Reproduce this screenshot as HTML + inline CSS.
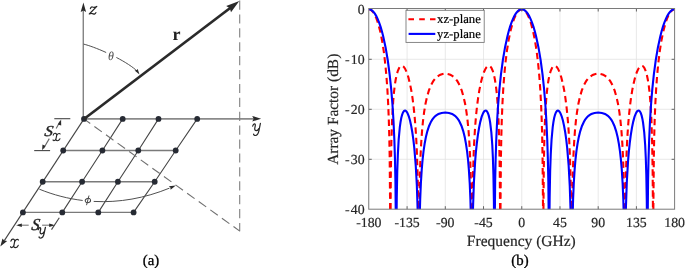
<!DOCTYPE html>
<html><head><meta charset="utf-8"><style>
html,body{margin:0;padding:0;background:#fff;}
svg{display:block;will-change:transform;}
text{font-family:"Liberation Serif",serif;text-rendering:geometricPrecision;}
</style></head><body>
<svg width="685" height="268" viewBox="0 0 685 268">
<defs>
<clipPath id="ax"><rect x="368.75" y="7.0" width="305.85" height="202.2"/></clipPath>
</defs>
<rect width="685" height="268" fill="#fff"/>
<!-- ===== LEFT DIAGRAM ===== -->
<g stroke="#454545" stroke-width="1.1" fill="none">
<!-- z axis -->
<line x1="83.25" y1="119" x2="83.25" y2="10" stroke="#747474" stroke-width="1.25"/>
<!-- y axis (row 0) -->
<line x1="84" y1="118.9" x2="254" y2="118.9" stroke="#8a8a8a" stroke-width="1.6"/>
<!-- x axis -->
<line x1="84" y1="118.9" x2="4.3" y2="240.6"/>
<line x1="63.2" y1="150.5" x2="175.7" y2="150.5" stroke="#7a7a7a" stroke-width="1.35"/>
<line x1="42.7" y1="181.75" x2="154.7" y2="181.75" stroke="#7a7a7a" stroke-width="1.35"/>
<line x1="22.9" y1="212.4" x2="133.6" y2="212.4" stroke="#7a7a7a" stroke-width="1.35"/>
<polyline fill="none" points="122.7,118.9 102.4,150.5 82.1,181.75 62.3,212.4"/>
<polyline fill="none" points="158.5,118.9 138.3,150.5 117.9,181.75 98.3,212.4"/>
<polyline fill="none" points="197.2,118.9 175.7,150.5 154.7,181.75 133.6,212.4"/>
<!-- dashed vertical -->
<line x1="239.7" y1="0.5" x2="239.7" y2="231.2" stroke="#808080" stroke-width="1.1" stroke-dasharray="9.2 4.7"/>
<!-- dashed diagonal -->
<line x1="82.8" y1="118.14" x2="239.8" y2="231.1" stroke="#707070" stroke-width="1.1" stroke-dasharray="9.2 5.08"/>
<!-- theta arc -->
<path d="M83.60,44.10 C89.10,45.46 97.48,48.56 106.17,52.50" stroke="#505050" stroke-width="1.0"/>
<path d="M116.39,57.46 C125.13,62.01 133.13,67.06 137.64,71.62" stroke="#505050" stroke-width="1.0"/>
<!-- phi arc -->
<path d="M39.40,189.20 C53.60,194.98 68.10,198.71 82.68,200.47" stroke="#505050" stroke-width="1.0"/>
<path d="M93.70,201.43 C119.28,202.79 144.93,198.20 169.47,188.14" stroke="#505050" stroke-width="1.0"/>
<!-- Sx -->
<line x1="54.3" y1="118.7" x2="70.3" y2="118.7"/>
<line x1="34.2" y1="150.6" x2="50.1" y2="150.6"/>
<line x1="60" y1="121.5" x2="56.2" y2="128.5" stroke="#666"/>
<line x1="49.3" y1="138.6" x2="43.5" y2="148.5" stroke="#666"/>
<!-- Sy -->
<line x1="18" y1="225.2" x2="28.7" y2="225.2" stroke="#777"/>
<line x1="42.1" y1="225.2" x2="52.5" y2="225.2" stroke="#777"/>
<line x1="59.3" y1="217.7" x2="51.5" y2="229.6"/>
</g>
<g fill="#262a33">
<circle cx="84.0" cy="118.9" r="2.9"/>
<circle cx="122.7" cy="118.9" r="2.9"/>
<circle cx="158.5" cy="118.9" r="2.9"/>
<circle cx="197.2" cy="118.9" r="2.9"/>
<circle cx="63.2" cy="150.5" r="2.9"/>
<circle cx="102.4" cy="150.5" r="2.9"/>
<circle cx="138.3" cy="150.5" r="2.9"/>
<circle cx="175.7" cy="150.5" r="2.9"/>
<circle cx="42.7" cy="181.75" r="2.9"/>
<circle cx="82.1" cy="181.75" r="2.9"/>
<circle cx="117.9" cy="181.75" r="2.9"/>
<circle cx="154.7" cy="181.75" r="2.9"/>
<circle cx="22.9" cy="212.4" r="2.9"/>
<circle cx="62.3" cy="212.4" r="2.9"/>
<circle cx="98.3" cy="212.4" r="2.9"/>
<circle cx="133.6" cy="212.4" r="2.9"/>
</g>
<!-- r vector -->
<line x1="84" y1="119" x2="230.5" y2="7.7" stroke="#2a2a2a" stroke-width="2.7"/>
<g fill="#2a2a2a" stroke="none">
<!-- r arrowhead -->
<path d="M239.3,1.1 L226.2,6 L229.8,8.2 L231,12.2 Z"/>
<!-- z arrowhead -->
<path d="M83.4,2.5 L80.7,12 L83.4,10.5 L86.1,12 Z"/>
<!-- y arrowhead -->
<path d="M261.1,118.65 L252.2,115.9 L253.7,118.65 L252.2,121.5 Z"/>
<!-- x arrowhead -->
<path d="M0.3,246.5 L2.5,238.5 L4.2,240.4 L7.2,241.1 Z"/>
<!-- theta arrowhead -->
<path d="M139.5,74.4 L134.6,70.6 L136.7,70 L137.7,68.9 Z"/>
<!-- phi arrowhead -->
<path d="M175.8,185.4 L168.8,186.3 L170.4,187.5 L170.6,189.7 Z"/>
<!-- Sx arrowheads -->
<path d="M61.1,119.6 L57.8,124.5 L61.2,125.5 Z"/>
<path d="M42.1,150.3 L42.5,144.5 L45.5,146 Z"/>
<!-- Sy arrowheads -->
<path d="M16.2,225.2 L21.8,223.5 L21.8,226.9 Z"/>
<path d="M54.8,225.2 L49.2,223.5 L49.2,226.9 Z"/>
</g>
<g font-family="Liberation Serif" fill="#222">

<text x="172.5" y="39.9" font-size="18" font-weight="bold">r</text>
<text x="108.0" y="59.8" font-size="12" font-style="italic" fill="#4a4a4a">θ</text>

<text transform="translate(44.0,136.3) scale(1.12,1.02) skewX(-8)" font-size="15" font-style="italic" stroke="#222" stroke-width="0.35">S</text>

<text transform="translate(31.0,230.3) scale(1.08,1.12) skewX(-8)" font-size="15" font-style="italic" stroke="#222" stroke-width="0.35">S</text>

<text x="151" y="265.0" font-size="14.8" text-anchor="middle" fill="#000" stroke="#000" stroke-width="0.3">(a)</text>
</g>
<g fill="none" stroke="#262626" stroke-width="1.2" stroke-linecap="round" stroke-linejoin="round">
<path transform="translate(89.1,6.3)" d="M1.3,2.4 C1.6,1.0 2.5,0.4 3.3,0.7 C4.6,1.2 5.6,1.4 7.7,0.1 L0.2,7.7 C1.8,6.7 3.2,7.2 4.2,7.6 C5.2,8.0 6.3,7.6 6.8,6.3"/>
<ellipse cx="87.9" cy="200.5" rx="2.7" ry="2.2" transform="rotate(-20 87.9 200.5)" stroke="#444" stroke-width="0.95"/>
<path d="M88.9,195.9 L86.6,204.8" stroke="#444" stroke-width="0.95"/>
<path transform="translate(251.8,123.2)" d="M0.87,2.88 C1.3,1.3 2.2,0.5 2.8,0.6 C3.8,0.8 3.6,2.2 3.2,3.9 C2.8,5.5 2.6,7.3 4.3,7.5 C5.7,7.6 6.7,6.2 7.2,5.1 M8.6,0.2 L7.1,7.7 C6.6,10.0 5.5,12.3 3.7,12.3 C2.5,12.3 1.6,11.7 1.8,10.9"/>
<path transform="translate(10.1,238.9)" d="M0.8,2.3 C1.2,0.9 2.2,0.1 3.2,0.3 C4.5,0.6 4.8,1.6 4.5,2.9 L3.8,6.5 C3.5,7.9 4.1,8.7 5.2,8.7 C6.5,8.7 7.5,7.7 8.1,6.5 M8.3,1.1 C7.9,0.3 6.8,0.2 5.9,0.9 C5.3,1.4 4.9,2.1 4.5,2.9 M3.8,6.5 C3.4,7.6 2.6,8.7 1.5,8.7 C0.9,8.7 0.5,8.3 0.6,7.7"/>
<path transform="translate(52.5,133.1) scale(0.92,0.87)" stroke-width="1.25" d="M0.8,2.3 C1.2,0.9 2.2,0.1 3.2,0.3 C4.5,0.6 4.8,1.6 4.5,2.9 L3.8,6.5 C3.5,7.9 4.1,8.7 5.2,8.7 C6.5,8.7 7.5,7.7 8.1,6.5 M8.3,1.1 C7.9,0.3 6.8,0.2 5.9,0.9 C5.3,1.4 4.9,2.1 4.5,2.9 M3.8,6.5 C3.4,7.6 2.6,8.7 1.5,8.7 C0.9,8.7 0.5,8.3 0.6,7.7"/>
<path transform="translate(37.4,227.2) scale(0.93,0.88)" stroke-width="1.4" d="M0.87,2.88 C1.3,1.3 2.2,0.5 2.8,0.6 C3.8,0.8 3.6,2.2 3.2,3.9 C2.8,5.5 2.6,7.3 4.3,7.5 C5.7,7.6 6.7,6.2 7.2,5.1 M8.6,0.2 L7.1,7.7 C6.6,10.0 5.5,12.3 3.7,12.3 C2.5,12.3 1.6,11.7 1.8,10.9"/>
</g>
<!-- ===== RIGHT CHART ===== -->
<g stroke="#e3e3e3" stroke-width="0.8">
<line x1="407.08" y1="8.5" x2="407.08" y2="209.2"/><line x1="445.30" y1="8.5" x2="445.30" y2="209.2"/><line x1="483.53" y1="8.5" x2="483.53" y2="209.2"/><line x1="521.75" y1="8.5" x2="521.75" y2="209.2"/><line x1="559.97" y1="8.5" x2="559.97" y2="209.2"/><line x1="598.20" y1="8.5" x2="598.20" y2="209.2"/><line x1="636.42" y1="8.5" x2="636.42" y2="209.2"/><line x1="368.75" y1="59.30" x2="674.6" y2="59.30"/><line x1="368.75" y1="109.30" x2="674.6" y2="109.30"/><line x1="368.75" y1="159.30" x2="674.6" y2="159.30"/>
</g>
<g clip-path="url(#ax)" fill="none" stroke-width="2.1">
<path d="M368.86,9.30 L370.09,9.54 L371.28,10.21 L372.51,11.38 L373.70,12.99 L374.85,14.99 L375.99,17.47 L377.10,20.34 L378.20,23.72 L380.24,31.50 L382.11,40.80 L383.81,51.70 L385.25,63.64 L386.40,75.83 L387.37,89.28 L388.18,104.07 L388.82,120.09 L389.29,136.63 L389.67,156.61 L390.14,209.30" stroke="#ff0000" stroke-dasharray="6.356 4.064" stroke-dashoffset="0.00"/>
<path d="M390.56,209.30 L390.86,171.04 L391.37,141.89 L392.13,119.06 L393.24,100.43 L393.96,92.35 L394.76,85.49 L395.70,79.50 L396.72,74.66 L397.87,70.78 L399.10,68.02 L399.73,67.06 L400.41,66.36 L401.09,65.95 L401.77,65.82 L402.58,66.00 L403.39,66.53 L404.19,67.40 L405.04,68.67 L406.70,72.21 L408.31,77.07 L409.84,83.12 L411.24,90.16 L412.52,98.15 L413.66,107.11 L414.60,116.16 L415.45,126.42 L416.17,137.49 L416.76,149.22 L417.66,175.80 L418.23,209.30" stroke="#ff0000" stroke-dasharray="6.405 4.095" stroke-dashoffset="0.00"/>
<path d="M419.26,209.30 L419.57,188.97 L419.99,171.31 L420.50,156.92 L421.18,143.36 L422.03,131.22 L423.01,120.93 L424.15,111.86 L425.51,103.73 L427.08,96.63 L428.91,90.45 L430.95,85.35 L432.05,83.18 L433.24,81.20 L434.52,79.44 L435.83,77.95 L437.23,76.66 L438.72,75.60 L440.29,74.76 L441.91,74.16 L443.61,73.79 L445.30,73.67 L447.00,73.79 L448.70,74.16 L450.32,74.76 L451.89,75.60 L453.37,76.66 L454.77,77.95 L456.09,79.44 L457.37,81.20 L458.55,83.18 L459.66,85.35 L461.70,90.45 L463.52,96.63 L465.10,103.73 L466.45,111.86 L467.60,120.93 L468.58,131.22 L469.43,143.36 L470.11,156.92 L470.62,171.31 L471.04,188.97 L471.35,209.30" stroke="#ff0000" stroke-dasharray="6.405 4.095" stroke-dashoffset="0.00"/>
<path d="M472.37,209.30 L472.95,175.80 L473.84,149.22 L474.44,137.49 L475.16,126.42 L476.01,116.16 L476.94,107.11 L478.09,98.15 L479.36,90.16 L480.77,83.12 L482.30,77.07 L483.91,72.21 L485.57,68.67 L486.41,67.40 L487.22,66.53 L488.03,66.00 L488.84,65.82 L489.52,65.95 L490.19,66.36 L490.87,67.06 L491.51,68.02 L492.74,70.78 L493.89,74.66 L494.91,79.50 L495.84,85.49 L496.65,92.35 L497.37,100.43 L498.48,119.06 L499.24,141.89 L499.75,171.04 L500.05,209.30" stroke="#ff0000" stroke-dasharray="6.454 4.126" stroke-dashoffset="0.00"/>
<path d="M500.47,209.30 L500.94,156.61 L501.32,136.63 L501.79,120.09 L502.43,104.07 L503.23,89.28 L504.21,75.83 L505.36,63.64 L506.80,51.70 L508.50,40.80 L510.37,31.50 L512.41,23.72 L513.51,20.34 L514.62,17.47 L515.76,14.99 L516.91,12.99 L518.10,11.38 L519.33,10.21 L520.52,9.54 L521.75,9.30 L522.98,9.54 L524.17,10.21 L525.40,11.38 L526.59,12.99 L527.74,14.99 L528.88,17.47 L529.99,20.34 L531.09,23.72 L533.13,31.50 L535.00,40.80 L536.70,51.70 L538.14,63.64 L539.29,75.83 L540.27,89.28 L541.07,104.07 L541.71,120.09 L542.18,136.63 L542.56,156.61 L543.03,209.30" stroke="#ff0000" stroke-dasharray="6.405 4.095" stroke-dashoffset="0.00"/>
<path d="M543.45,209.30 L543.75,171.04 L544.26,141.89 L545.02,119.06 L546.13,100.43 L546.85,92.35 L547.66,85.49 L548.59,79.50 L549.61,74.66 L550.76,70.78 L551.99,68.02 L552.63,67.06 L553.31,66.36 L553.98,65.95 L554.66,65.82 L555.47,66.00 L556.28,66.53 L557.09,67.40 L557.93,68.67 L559.59,72.21 L561.20,77.07 L562.73,83.12 L564.14,90.16 L565.41,98.15 L566.56,107.11 L567.49,116.16 L568.34,126.42 L569.06,137.49 L569.66,149.22 L570.55,175.80 L571.13,209.30" stroke="#ff0000" stroke-dasharray="6.405 4.095" stroke-dashoffset="0.00"/>
<path d="M572.15,209.30 L572.46,188.97 L572.88,171.31 L573.39,156.92 L574.07,143.36 L574.92,131.22 L575.90,120.93 L577.05,111.86 L578.40,103.73 L579.98,96.63 L581.80,90.45 L583.84,85.35 L584.95,83.18 L586.13,81.20 L587.41,79.44 L588.73,77.95 L590.13,76.66 L591.61,75.60 L593.18,74.76 L594.80,74.16 L596.50,73.79 L598.20,73.67 L599.89,73.79 L601.59,74.16 L603.21,74.76 L604.78,75.60 L606.27,76.66 L607.67,77.95 L608.98,79.44 L610.26,81.20 L611.45,83.18 L612.55,85.35 L614.59,90.45 L616.42,96.63 L617.99,103.73 L619.35,111.86 L620.49,120.93 L621.47,131.22 L622.32,143.36 L623.00,156.92 L623.51,171.31 L623.93,188.97 L624.24,209.30" stroke="#ff0000" stroke-dasharray="6.405 4.095" stroke-dashoffset="0.00"/>
<path d="M625.27,209.30 L625.84,175.80 L626.74,149.22 L627.33,137.49 L628.05,126.42 L628.90,116.16 L629.84,107.11 L630.98,98.15 L632.26,90.16 L633.66,83.12 L635.19,77.07 L636.80,72.21 L638.46,68.67 L639.31,67.40 L640.11,66.53 L640.92,66.00 L641.73,65.82 L642.41,65.95 L643.09,66.36 L643.77,67.06 L644.40,68.02 L645.63,70.78 L646.78,74.66 L647.80,79.50 L648.74,85.49 L649.54,92.35 L650.26,100.43 L651.37,119.06 L652.13,141.89 L652.64,171.04 L652.94,209.30" stroke="#ff0000" stroke-dasharray="6.405 4.095" stroke-dashoffset="0.00"/>
<path d="M653.36,209.30 L653.83,156.61 L654.21,136.63 L654.68,120.09 L655.32,104.07 L656.13,89.28 L657.10,75.83 L658.25,63.64 L659.69,51.70 L661.39,40.80 L663.26,31.50 L665.30,23.72 L666.40,20.34 L667.51,17.47 L668.65,14.99 L669.80,12.99 L670.99,11.38 L672.22,10.21 L673.41,9.54 L674.64,9.30" stroke="#ff0000" stroke-dasharray="6.405 4.095" stroke-dashoffset="0.00"/>
<path d="M368.86,9.30 L370.39,9.58 L371.87,10.40 L373.36,11.77 L374.85,13.69 L376.29,16.11 L377.73,19.10 L379.14,22.57 L380.54,26.65 L381.90,31.24 L383.17,36.16 L385.59,47.44 L387.76,60.24 L389.67,74.55 L391.20,89.09 L392.47,104.62 L393.49,120.91 L394.34,139.42 L394.98,159.39 L395.44,181.70 L396.00,239.30 L396.38,239.30 L396.76,197.64 L397.27,171.35 L397.87,154.14 L398.67,139.69 L399.82,127.19 L400.50,122.24 L401.26,118.09 L402.11,114.79 L403.00,112.48 L403.98,111.06 L404.49,110.70 L405.00,110.58 L405.59,110.73 L406.23,111.22 L406.87,112.02 L407.51,113.14 L408.78,116.30 L410.01,120.57 L411.20,125.95 L412.30,132.24 L413.32,139.45 L414.26,147.61 L415.74,165.34 L416.85,185.73 L417.61,208.62 L418.21,239.30 L419.31,239.25 L419.69,217.34 L420.20,199.21 L420.88,183.30 L421.73,169.68 L422.54,160.22 L423.52,151.46 L424.62,143.86 L425.85,137.31 L427.38,131.11 L429.08,125.98 L431.03,121.69 L432.10,119.89 L433.20,118.34 L434.39,116.97 L435.62,115.84 L436.98,114.85 L438.42,114.06 L440.00,113.44 L441.65,113.00 L443.44,112.73 L445.30,112.63 L447.17,112.73 L448.96,113.00 L450.61,113.44 L452.18,114.06 L453.63,114.85 L454.99,115.84 L456.22,116.97 L457.41,118.34 L458.51,119.89 L459.57,121.69 L461.53,125.98 L463.23,131.11 L464.76,137.31 L465.99,143.86 L467.09,151.46 L468.07,160.22 L468.87,169.68 L469.72,183.30 L470.40,199.21 L470.91,217.34 L471.30,239.25 L472.40,239.30 L473.04,206.98 L473.93,181.91 L475.16,161.15 L475.92,151.95 L476.82,143.31 L477.88,135.06 L479.07,127.74 L480.34,121.61 L481.70,116.68 L483.10,113.14 L483.78,111.96 L484.46,111.14 L485.14,110.68 L485.82,110.60 L486.46,110.91 L487.09,111.61 L487.94,113.24 L488.75,115.65 L489.47,118.69 L490.15,122.51 L491.34,132.40 L492.28,144.96 L492.91,158.25 L493.42,174.65 L493.89,200.89 L494.23,239.30 L494.61,239.30 L495.16,181.70 L495.63,159.39 L496.27,139.42 L497.12,120.91 L498.14,104.62 L499.41,89.09 L500.94,74.55 L502.85,60.24 L505.02,47.44 L507.44,36.16 L508.71,31.24 L510.07,26.65 L511.47,22.57 L512.87,19.10 L514.32,16.11 L515.76,13.69 L517.25,11.77 L518.73,10.40 L520.22,9.58 L521.75,9.30 L523.28,9.58 L524.77,10.40 L526.25,11.77 L527.74,13.69 L529.18,16.11 L530.63,19.10 L532.03,22.57 L533.43,26.65 L534.79,31.24 L536.06,36.16 L538.48,47.44 L540.65,60.24 L542.56,74.55 L544.09,89.09 L545.36,104.62 L546.38,120.91 L547.23,139.42 L547.87,159.39 L548.34,181.70 L548.89,239.30 L549.27,239.30 L549.65,197.64 L550.16,171.35 L550.76,154.14 L551.56,139.69 L552.71,127.19 L553.39,122.24 L554.15,118.09 L555.00,114.79 L555.90,112.48 L556.87,111.06 L557.38,110.70 L557.89,110.58 L558.49,110.73 L559.12,111.22 L559.76,112.02 L560.40,113.14 L561.67,116.30 L562.90,120.57 L564.09,125.95 L565.20,132.24 L566.22,139.45 L567.15,147.61 L568.64,165.34 L569.74,185.73 L570.51,208.62 L571.10,239.30 L572.20,239.25 L572.59,217.34 L573.10,199.21 L573.78,183.30 L574.63,169.68 L575.43,160.22 L576.41,151.46 L577.51,143.86 L578.74,137.31 L580.27,131.11 L581.97,125.98 L583.93,121.69 L584.99,119.89 L586.09,118.34 L587.28,116.97 L588.51,115.84 L589.87,114.85 L591.32,114.06 L592.89,113.44 L594.54,113.00 L596.33,112.73 L598.20,112.63 L600.06,112.73 L601.85,113.00 L603.50,113.44 L605.08,114.06 L606.52,114.85 L607.88,115.84 L609.11,116.97 L610.30,118.34 L611.40,119.89 L612.47,121.69 L614.42,125.98 L616.12,131.11 L617.65,137.31 L618.88,143.86 L619.98,151.46 L620.96,160.22 L621.77,169.68 L622.62,183.30 L623.30,199.21 L623.81,217.34 L624.19,239.25 L625.29,239.30 L625.93,206.98 L626.82,181.91 L628.05,161.15 L628.82,151.95 L629.71,143.31 L630.77,135.06 L631.96,127.74 L633.23,121.61 L634.59,116.68 L635.99,113.14 L636.67,111.96 L637.35,111.14 L638.03,110.68 L638.71,110.60 L639.35,110.91 L639.99,111.61 L640.84,113.24 L641.64,115.65 L642.36,118.69 L643.04,122.51 L644.23,132.40 L645.17,144.96 L645.80,158.25 L646.31,174.65 L646.78,200.89 L647.12,239.30 L647.50,239.30 L648.06,181.70 L648.52,159.39 L649.16,139.42 L650.01,120.91 L651.03,104.62 L652.30,89.09 L653.83,74.55 L655.74,60.24 L657.91,47.44 L660.33,36.16 L661.60,31.24 L662.96,26.65 L664.36,22.57 L665.77,19.10 L667.21,16.11 L668.65,13.69 L670.14,11.77 L671.63,10.40 L673.11,9.58 L674.64,9.30" stroke="#0000ff"/>
</g>
<g stroke="#555" stroke-width="0.9">
<line x1="407.08" y1="209.2" x2="407.08" y2="206.2"/><line x1="407.08" y1="8.5" x2="407.08" y2="11.5"/><line x1="445.30" y1="209.2" x2="445.30" y2="206.2"/><line x1="445.30" y1="8.5" x2="445.30" y2="11.5"/><line x1="483.53" y1="209.2" x2="483.53" y2="206.2"/><line x1="483.53" y1="8.5" x2="483.53" y2="11.5"/><line x1="521.75" y1="209.2" x2="521.75" y2="206.2"/><line x1="521.75" y1="8.5" x2="521.75" y2="11.5"/><line x1="559.97" y1="209.2" x2="559.97" y2="206.2"/><line x1="559.97" y1="8.5" x2="559.97" y2="11.5"/><line x1="598.20" y1="209.2" x2="598.20" y2="206.2"/><line x1="598.20" y1="8.5" x2="598.20" y2="11.5"/><line x1="636.42" y1="209.2" x2="636.42" y2="206.2"/><line x1="636.42" y1="8.5" x2="636.42" y2="11.5"/><line x1="368.75" y1="59.30" x2="371.75" y2="59.30"/><line x1="674.6" y1="59.30" x2="671.6" y2="59.30"/><line x1="368.75" y1="109.30" x2="371.75" y2="109.30"/><line x1="674.6" y1="109.30" x2="671.6" y2="109.30"/><line x1="368.75" y1="159.30" x2="371.75" y2="159.30"/><line x1="674.6" y1="159.30" x2="671.6" y2="159.30"/>
</g>
<rect x="368.75" y="8.5" width="305.85" height="200.70" fill="none" stroke="#7a7a7a" stroke-width="1"/>
<g font-size="13.8" fill="#262626" stroke="#262626" stroke-width="0.2">
<text x="368.86" y="226.8" text-anchor="middle">-180</text><text x="407.08" y="226.8" text-anchor="middle">-135</text><text x="445.30" y="226.8" text-anchor="middle">-90</text><text x="483.53" y="226.8" text-anchor="middle">-45</text><text x="521.75" y="226.8" text-anchor="middle">0</text><text x="559.97" y="226.8" text-anchor="middle">45</text><text x="598.20" y="226.8" text-anchor="middle">90</text><text x="636.42" y="226.8" text-anchor="middle">135</text><text x="674.64" y="226.8" text-anchor="middle">180</text><text x="364.6" y="13.70" text-anchor="end">0</text><text x="364.6" y="63.70" text-anchor="end">-<tspan dx="1.2">10</tspan></text><text x="364.6" y="113.70" text-anchor="end">-<tspan dx="1.2">20</tspan></text><text x="364.6" y="163.70" text-anchor="end">-<tspan dx="1.2">30</tspan></text><text x="364.6" y="213.70" text-anchor="end">-<tspan dx="1.2">40</tspan></text>
</g>
<text x="521.3" y="245.8" font-size="15.5" text-anchor="middle" fill="#262626" stroke="#262626" stroke-width="0.2">Frequency (GHz)</text>
<text transform="translate(337.9,109.3) rotate(-90)" x="0" y="0" font-size="15.4" text-anchor="middle" fill="#262626" stroke="#262626" stroke-width="0.2">Array Factor (dB)</text>
<!-- legend -->
<rect x="406.0" y="10.3" width="78.2" height="32.1" fill="#fff" stroke="#7a7a7a" stroke-width="0.9"/>
<line x1="408.4" y1="19.3" x2="435.5" y2="19.3" stroke="#ff0000" stroke-width="2.1" stroke-dasharray="5.6 5.2"/>
<line x1="408.6" y1="33.9" x2="435.3" y2="33.9" stroke="#0000ff" stroke-width="2.1"/>
<text x="437.1" y="23.4" font-size="12.7" fill="#000" stroke="#000" stroke-width="0.2">xz-plane</text>
<text x="437.1" y="37.9" font-size="12.7" fill="#000" stroke="#000" stroke-width="0.2">yz-plane</text>
<text x="520" y="264.5" font-size="14.8" text-anchor="middle" fill="#000" stroke="#000" stroke-width="0.3">(b)</text>
</svg>
</body></html>
